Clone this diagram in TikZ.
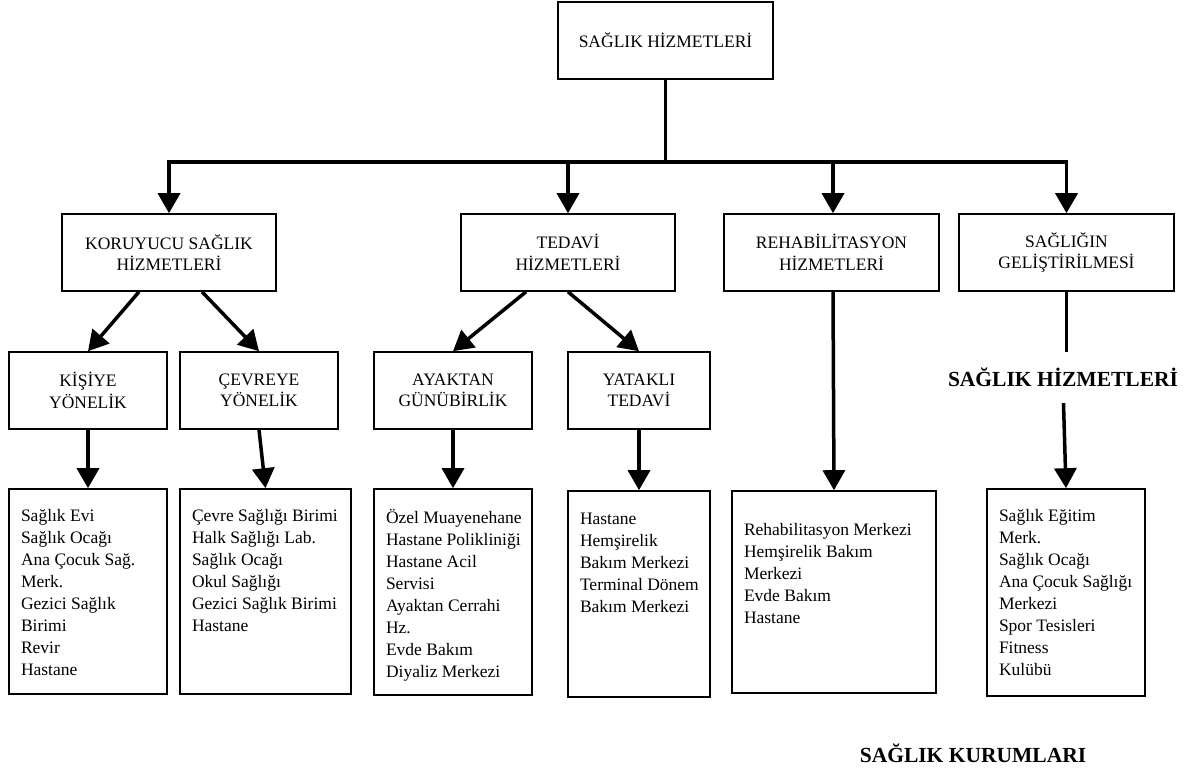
\documentclass[tikz,border=0pt]{standalone}
\usepackage{fontspec}
\setmainfont{Liberation Serif}
\usetikzlibrary{arrows.meta}
\newcommand\lstbox[4]{\parbox[c][#1][t]{#2}{\vspace*{#3}\begin{tabular}[t]{@{}l@{}}#4\end{tabular}}}
\tikzset{
  box/.style={draw, line width=1.6pt, inner sep=0pt, align=center, font=\fontsize{17.5}{21.5}\selectfont},
  listbox/.style={draw, line width=1.6pt, inner sep=0pt, font=\fontsize{17.5}{22}\selectfont},
  conn/.style={line width=3.5pt},
  arr/.style={conn, -{Triangle[width=22pt,length=20pt]}},
  big/.style={font=\fontsize{21.5}{26}\selectfont\bfseries, inner sep=0pt, text height=15pt, text depth=0pt},
}
\begin{document}
\begin{tikzpicture}[x=1pt,y=-1pt]
\useasboundingbox (0,0) rectangle (1197,771);
% level 1
\node[box, minimum width=215pt, minimum height=77pt] (top) at (665.5,40.5) {SAĞLIK HİZMETLERİ};
% level 2
\node[box, minimum width=214pt, minimum height=77pt] (kor) at (169,252.5) {KORUYUCU SAĞLIK\\HİZMETLERİ};
\node[box, minimum width=214pt, minimum height=77pt] (ted) at (568,252.5) {TEDAVİ\\HİZMETLERİ};
\node[box, minimum width=215pt, minimum height=77pt] (reh) at (831.5,252.5) {REHABİLİTASYON\\HİZMETLERİ};
\node[box, minimum width=215pt, minimum height=77pt] (gel) at (1066.5,252.5) {SAĞLIĞIN\\GELİŞTİRİLMESİ};
% level 3
\node[box, minimum width=158pt, minimum height=77pt] (kis) at (88,390.5) {KİŞİYE\\YÖNELİK};
\node[box, minimum width=158pt, minimum height=77pt] (cev) at (259,390.5) {ÇEVREYE\\YÖNELİK};
\node[box, minimum width=158pt, minimum height=77pt] (aya) at (453,390.5) {AYAKTAN\\GÜNÜBİRLİK};
\node[box, minimum width=142pt, minimum height=77pt] (yat) at (639,390.5) {YATAKLI\\TEDAVİ};
% lists
\node[listbox, minimum width=158pt] (kl) at (88,591.5) {\lstbox{205pt}{134pt}{16.6pt}{Sağlık Evi\\Sağlık Ocağı\\Ana Çocuk Sağ.\\Merk.\\Gezici Sağlık\\Birimi\\Revir\\Hastane}};
\node[listbox, minimum width=171pt] (cl) at (265.5,591.5) {\lstbox{205pt}{147pt}{16.6pt}{Çevre Sağlığı Birimi\\Halk Sağlığı Lab.\\Sağlık Ocağı\\Okul Sağlığı\\Gezici Sağlık Birimi\\Hastane}};
\node[listbox, minimum width=158pt] (al) at (453,592) {\lstbox{206pt}{134pt}{18.6pt}{Özel Muayenehane\\Hastane Polikliniği\\Hastane Acil\\Servisi\\Ayaktan Cerrahi\\Hz.\\Evde Bakım\\Diyaliz Merkezi}};
\node[listbox, minimum width=142pt] (yl) at (639,594) {\lstbox{206pt}{118pt}{17.6pt}{Hastane\\Hemşirelik\\Bakım Merkezi\\Terminal Dönem\\Bakım Merkezi}};
\node[listbox, minimum width=204pt] (rl) at (834,592) {\lstbox{202pt}{180pt}{28.6pt}{Rehabilitasyon Merkezi\\Hemşirelik Bakım\\Merkezi\\Evde Bakım\\Hastane}};
\node[listbox, minimum width=158pt] (gl) at (1066,592.5) {\lstbox{207pt}{134pt}{16.6pt}{Sağlık Eğitim\\Merk.\\Sağlık Ocağı\\Ana Çocuk Sağlığı\\Merkezi\\Spor Tesisleri\\Fitness\\Kulübü}};
% labels
\node[big] (sh) at (1063,379) {SAĞLIK HİZMETLERİ};
\node[big] (sk) at (973,754.5) {SAĞLIK KURUMLARI};
% connectors
\coordinate (bar) at (665.5,162);
\draw[conn] (top.south) -- (bar);
\draw[arr] (bar) -| (kor.north);
\draw[arr] (bar) -| (ted.north);
\draw[arr] (bar) -| ([xshift=1.5pt]reh.north);
\draw[arr] (bar) -| (gel.north);
\draw[arr] ([xshift=-30pt]kor.south) -- (kis.north);
\draw[arr] ([xshift=33pt]kor.south) -- (cev.north);
\draw[arr] ([xshift=-42pt]ted.south) -- (aya.north);
\draw[arr] (ted.south) -- (yat.north);
\draw[arr] (kis.south) -- (kl.north);
\draw[arr] (cev.south) -- (cl.north);
\draw[arr] (aya.south) -- (al.north);
\draw[arr] (yat.south) -- (yl.north);
\draw[arr] ([xshift=1.5pt]reh.south) -- (rl.north);
\draw[conn, shorten >=19.5pt] (gel.south) -- (gel.south |- sh.north);
\draw[arr, shorten <=16.5pt] (sh.south) -- (gl.north);
\end{tikzpicture}
\end{document}
